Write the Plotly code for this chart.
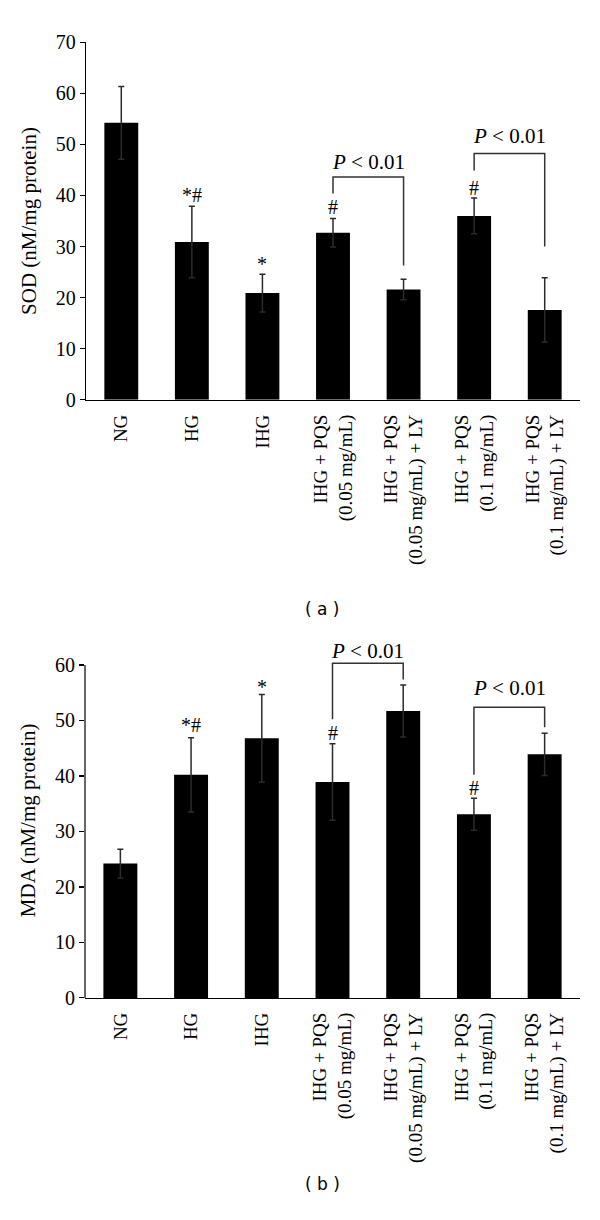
import plotly.graph_objects as go

categories = ["NG", "HG", "IHG",
              "IHG + PQS<br>(0.05 mg/mL)",
              "IHG + PQS<br>(0.05 mg/mL) + LY",
              "IHG + PQS<br>(0.1 mg/mL)",
              "IHG + PQS<br>(0.1 mg/mL) + LY"]
positions = [0, 1, 2, 3, 4, 5, 6]

sod_mean = [54.2, 30.9, 20.9, 32.7, 21.6, 36.0, 17.6]
sod_err = [7.1, 7.0, 3.7, 2.8, 2.0, 3.5, 6.3]

mda_mean = [24.2, 40.2, 46.8, 38.9, 51.7, 33.1, 43.9]
mda_err = [2.6, 6.7, 7.9, 6.9, 4.7, 2.9, 3.8]

# significance marks: (category index, text, y)
sod_marks = [(1, "*#", 40.0), (2, "*", 26.6), (3, "#", 37.8), (5, "#", 41.5)]
mda_marks = [(1, "*#", 49.1), (2, "*", 56.0), (3, "#", 47.7), (5, "#", 37.8)]

# brackets: (left idx, right idx, left bottom, top, right bottom, label y)
sod_brackets = [(3, 4, 40.4, 43.6, 26.3, 46.6), (5, 6, 44.9, 48.2, 30.0, 51.7)]
mda_brackets = [(3, 4, 50.2, 60.3, 57.4, 62.6), (5, 6, 40.2, 52.4, 48.8, 55.8)]

SERIF = "Liberation Serif"
W, H = 600, 1220

fig = go.Figure()
annotations = []

panels = [
    dict(mean=sod_mean, err=sod_err, marks=sod_marks, br=sod_brackets,
         xa="x", ya="y"),
    dict(mean=mda_mean, err=mda_err, marks=mda_marks, br=mda_brackets,
         xa="x2", ya="y2"),
]

for p in panels:
    fig.add_trace(go.Bar(
        x=positions, y=p["mean"], xaxis=p["xa"], yaxis=p["ya"],
        marker=dict(color="black", line=dict(width=0)),
        error_y=dict(type="data", array=p["err"], visible=True,
                     color="#2b2b2b", thickness=1.5, width=3),
        hoverinfo="skip", showlegend=False,
    ))
    for (l, r, lb, top, rb, ly) in p["br"]:
        fig.add_trace(go.Scatter(
            x=[positions[l], positions[l], positions[r], positions[r]],
            y=[lb, top, top, rb], mode="lines",
            line=dict(color="#333333", width=1.5),
            xaxis=p["xa"], yaxis=p["ya"], hoverinfo="skip", showlegend=False,
        ))
        annotations.append(dict(
            x=(positions[l] + positions[r]) / 2, y=ly,
            xref=p["xa"], yref=p["ya"], text="<i>P</i> < 0.01",
            showarrow=False,
            font=dict(family=SERIF, size=21, color="black"),
        ))
    for (i, t, yy) in p["marks"]:
        annotations.append(dict(
            x=positions[i], y=yy, xref=p["xa"], yref=p["ya"], text=t,
            showarrow=False, font=dict(family=SERIF, size=20, color="black"),
        ))

annotations.append(dict(x=322 / W, y=1 - 609 / H, xref="paper", yref="paper",
                        text="( a )", showarrow=False,
                        font=dict(family="DejaVu Sans", size=17, color="black")))
annotations.append(dict(x=322 / W, y=1 - 1207 / H, xref="paper", yref="paper",
                        text="( b )", showarrow=False,
                        font=dict(family="DejaVu Sans", size=17, color="black")))


def xaxis_cfg(domain, anchor):
    return dict(domain=domain, anchor=anchor, showline=True, linecolor="black",
                linewidth=1.2, ticks="", showgrid=False, zeroline=False,
                tickangle=-90, ticklabelstandoff=6,
                tickvals=positions, ticktext=categories,
                tickfont=dict(family=SERIF, size=19, color="black"),
                range=[-0.5, 6.5])


def yaxis_cfg(domain, anchor, rng, title, tv, showline=True):
    return dict(domain=domain, anchor=anchor, range=rng, tickvals=tv,
                showline=showline, linecolor="black", linewidth=1.2,
                ticks="outside", ticklen=5, tickwidth=1.2, tickcolor="black",
                showgrid=False, zeroline=False,
                tickfont=dict(family=SERIF, size=20, color="black"),
                title=dict(text=title, standoff=13,
                           font=dict(family=SERIF, size=21, color="black")))


mda_ticks = [0, 10, 20, 30, 40, 50, 60]

fig.update_layout(
    width=W, height=H, margin=dict(l=0, r=0, t=0, b=0),
    paper_bgcolor="white", plot_bgcolor="white", showlegend=False,
    bargap=0.52,
    xaxis=xaxis_cfg([86 / W, 580 / W], "y"),
    yaxis=yaxis_cfg([1 - 396 / H, 1 - 31.7 / H], "x", [0, 70],
                    "SOD (nM/mg protein)", [0, 10, 20, 30, 40, 50, 60, 70]),
    xaxis2=xaxis_cfg([85 / W, 580 / W], "y2"),
    yaxis2=yaxis_cfg([1 - 1005 / H, 1 - 643.4 / H], "x2", [0, 64],
                     "MDA (nM/mg protein)", mda_ticks, showline=False),
    annotations=annotations,
    shapes=[dict(type="line", xref="x2 domain", yref="y2", x0=0, x1=0,
                 y0=mda_ticks[0], y1=mda_ticks[-1],
                 line=dict(color="black", width=1.2), layer="above")],
)

fig.write_html("out.html",
               config={"displayModeBar": False, "staticPlot": True},
               post_script="document.body.style.margin='0';"
                           "document.body.style.overflow='hidden';")
